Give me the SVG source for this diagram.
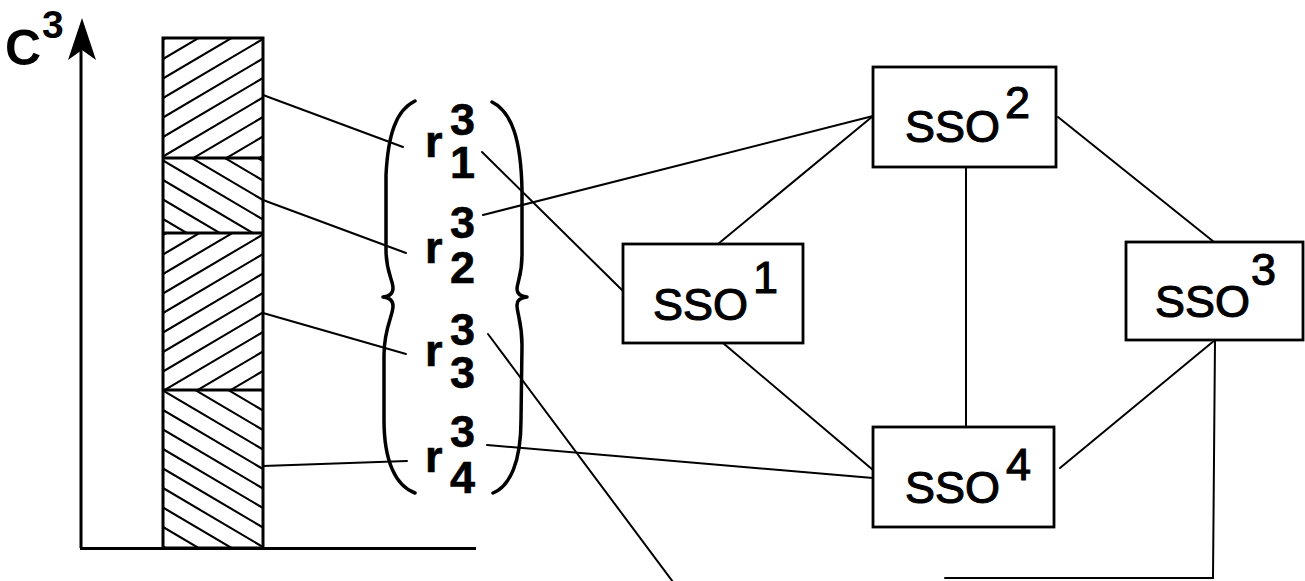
<svg xmlns="http://www.w3.org/2000/svg" width="1305" height="581" viewBox="0 0 1305 581">
<style>
.ln{stroke:#000;stroke-width:2;fill:none;stroke-linecap:round}
.box{stroke:#000;stroke-width:2.8;fill:#fff}
.br{stroke:#000;stroke-width:3.5;fill:none;stroke-linecap:round;stroke-linejoin:round}
.h{stroke:#000;stroke-width:2.1;fill:none}
.r{font-family:"Liberation Sans",Arial,sans-serif;font-weight:bold;font-size:45px;fill:#000;stroke:#000;stroke-width:0.6}
.s{font-family:"Liberation Sans",Arial,sans-serif;font-size:45px;fill:#000;stroke:#000;stroke-width:1.1}
.c{font-family:"Liberation Sans",Arial,sans-serif;font-weight:bold;fill:#000}
</style>
<defs>
<clipPath id="c1"><rect x="163" y="38" width="100" height="120"/></clipPath>
<clipPath id="c2"><rect x="163" y="158" width="100" height="75"/></clipPath>
<clipPath id="c3"><rect x="163" y="233" width="100" height="157"/></clipPath>
<clipPath id="c4"><rect x="163" y="390" width="100" height="158"/></clipPath>
</defs>
<g id="axes">
<line x1="81" y1="50" x2="81" y2="548" stroke="#000" stroke-width="3"/>
<line x1="80" y1="548.5" x2="476" y2="548.5" stroke="#000" stroke-width="3"/>
<path d="M82,18 L96,60 L82,50 L68,60 Z" fill="#000"/>
<text class="c" x="5" y="65" font-size="50">C</text>
<text class="c" x="42" y="38" font-size="39">3</text>
</g>
<g id="bar">
<path class="h" clip-path="url(#c1)" d="M163,39.5 L263,-19.5 M163,59 L263,0 M163,78.5 L263,19.5 M163,98 L263,39 M163,117.5 L263,58.5 M163,137 L263,78 M163,156.5 L263,97.5 M163,176 L263,117 M163,195.5 L263,136.5 M163,215 L263,156"/>
<path class="h" clip-path="url(#c2)" d="M163,102 L263,161 M163,121.5 L263,180.5 M163,141 L263,200 M163,160.5 L263,219.5 M163,180 L263,239 M163,199.5 L263,258.5 M163,219 L263,278"/>
<path class="h" clip-path="url(#c3)" d="M163,235 L263,176 M163,254.5 L263,195.5 M163,274 L263,215 M163,293.5 L263,234.5 M163,313 L263,254 M163,332.5 L263,273.5 M163,352 L263,293 M163,371.5 L263,312.5 M163,391 L263,332 M163,410.5 L263,351.5 M163,430 L263,371 M163,449.5 L263,390.5"/>
<path class="h" clip-path="url(#c4)" d="M163,332 L263,391 M163,351.5 L263,410.5 M163,371 L263,430 M163,390.5 L263,449.5 M163,410 L263,469 M163,429.5 L263,488.5 M163,449 L263,508 M163,468.5 L263,527.5 M163,488 L263,547 M163,507.5 L263,566.5 M163,527 L263,586 M163,546.5 L263,605.5"/>
<rect x="163" y="38" width="100" height="510" fill="none" stroke="#000" stroke-width="3"/>
<line x1="163" y1="158" x2="263" y2="158" stroke="#000" stroke-width="3"/>
<line x1="163" y1="233" x2="263" y2="233" stroke="#000" stroke-width="3"/>
<line x1="163" y1="390" x2="263" y2="390" stroke="#000" stroke-width="3"/>
</g>
<g id="braces">
<path class="br" d="M415,101 C396,110 388,135 386,175 L386,250 C386,272 393,280 393,288 Q393,296 383,297 Q393,298 393,306 C393,316 384,328 384,355 L384,420 C384,462 396,486 415,493"/>
<path class="br" d="M492,102 C512,112 521,140 522,190 L522,255 C522,276 517,282 517,289 Q517,296 527,297 Q517,298 517,305 C517,314 522,322 522,345 L521,420 C521,462 510,486 493,493"/>
</g>
<g id="r1">
<text class="r" x="425" y="157">r</text><text class="r" x="450" y="135">3</text><text class="r" x="450" y="178">1</text>
</g>
<g id="r2">
<text class="r" x="425" y="263">r</text><text class="r" x="450" y="238">3</text><text class="r" x="450" y="283">2</text>
</g>
<g id="r3">
<text class="r" x="425" y="366">r</text><text class="r" x="450" y="345">3</text><text class="r" x="450" y="388">3</text>
</g>
<g id="r4">
<text class="r" x="425" y="472">r</text><text class="r" x="450" y="447">3</text><text class="r" x="450" y="493">4</text>
</g>
<g id="connectors">
<line class="ln" x1="263" y1="95" x2="403" y2="147"/>
<line class="ln" x1="263" y1="200" x2="406" y2="253"/>
<line class="ln" x1="263" y1="313" x2="406" y2="354"/>
<line class="ln" x1="263" y1="466" x2="407" y2="461"/>
<line class="ln" x1="482" y1="152" x2="623" y2="291"/>
<line class="ln" x1="483" y1="215" x2="873" y2="116"/>
<line class="ln" x1="873" y1="116" x2="718" y2="244"/>
<line class="ln" x1="1058" y1="117" x2="1214" y2="242"/>
<line class="ln" x1="966" y1="167" x2="966" y2="427"/>
<line class="ln" x1="723" y1="343" x2="873" y2="470"/>
<line class="ln" x1="487" y1="445" x2="873" y2="478"/>
<line class="ln" x1="1215" y1="340" x2="1060" y2="468"/>
<polyline class="ln" points="1215,340 1213,578 945,578"/>
<line class="ln" x1="488" y1="334" x2="673" y2="582"/>
</g>
<g id="sso1">
<rect class="box" x="623" y="244" width="180" height="99"/>
<text class="s" x="653" y="320">SSO</text><text class="s" x="753" y="293">1</text>
</g>
<g id="sso2">
<rect class="box" x="873" y="67" width="183" height="100"/>
<text class="s" x="905" y="142">SSO</text><text class="s" x="1005" y="118">2</text>
</g>
<g id="sso3">
<rect class="box" x="1126" y="242" width="177" height="98"/>
<text class="s" x="1155" y="317">SSO</text><text class="s" x="1251" y="285">3</text>
</g>
<g id="sso4">
<rect class="box" x="873" y="427" width="181" height="100"/>
<text class="s" x="905" y="503">SSO</text><text class="s" x="1006" y="480">4</text>
</g>
</svg>
